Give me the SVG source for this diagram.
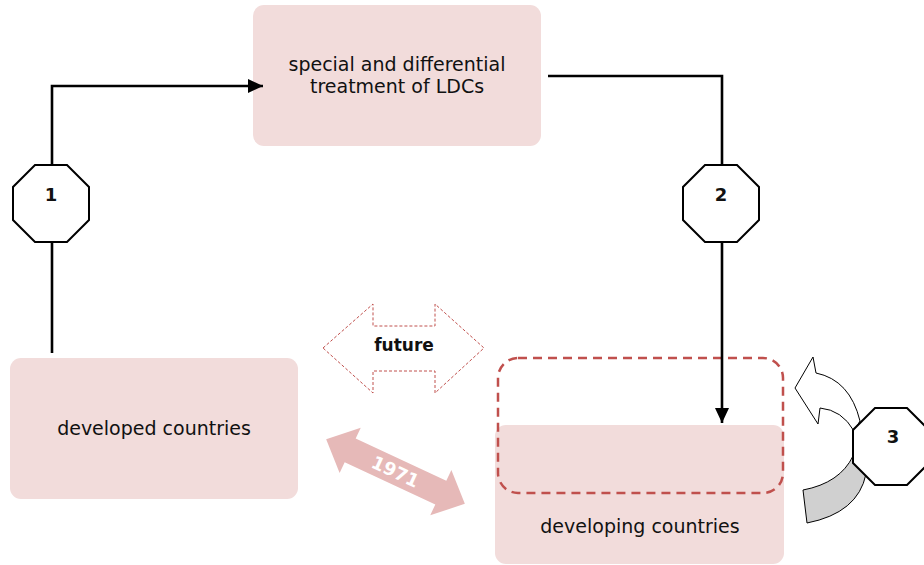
<svg xmlns="http://www.w3.org/2000/svg" width="924" height="565" viewBox="0 0 924 565">
<style>
.box{fill:#f2dcdb;stroke:none}
.lbl{font-family:"DejaVu Sans",sans-serif;font-size:19px;fill:#111;text-anchor:middle}
.num{font-family:"DejaVu Sans",sans-serif;font-size:18px;font-weight:bold;fill:#111;text-anchor:middle}
.oct{fill:#fff;stroke:#000;stroke-width:2}
.conn{fill:none;stroke:#000;stroke-width:2.6}
</style>
<defs>
<marker id="ah" markerWidth="16" markerHeight="14" refX="15" refY="7" orient="auto" markerUnits="userSpaceOnUse">
<path d="M0,0 L15,7 L0,14 Z" fill="#000"/>
</marker>
</defs>
<rect width="924" height="565" fill="#fff"/>
<g id="node-sdt">
<rect class="box" x="253" y="5" width="288" height="141" rx="11"/>
<text class="lbl" x="397" y="71">special and differential</text>
<text class="lbl" x="397" y="93">treatment of LDCs</text>
</g>
<g id="node-developed">
<rect class="box" x="10" y="358" width="288" height="141" rx="11"/>
<text class="lbl" x="154" y="435">developed countries</text>
</g>
<g id="node-developing">
<rect class="box" x="495" y="425" width="289" height="139" rx="11"/>
<text class="lbl" x="640" y="533">developing countries</text>
</g>
<g id="future-zone">
<rect x="498" y="358" width="285" height="135" rx="20" fill="none" stroke="#c0504d" stroke-width="2.5" stroke-dasharray="9 6"/>
</g>
<g id="connectors">
<polyline class="conn" points="52,353 52,86 263,86" marker-end="url(#ah)"/>
<polyline class="conn" points="548,76 722,76 722,423" marker-end="url(#ah)"/>
</g>
<g id="node-1">
<polygon class="oct" points="35,165 67,165 89,187 89,220 67,242 35,242 13,220 13,187"/>
<text class="num" x="51" y="201">1</text>
</g>
<g id="node-2">
<polygon class="oct" points="705,165 737,165 759,187 759,220 737,242 705,242 683,220 683,187"/>
<text class="num" x="721" y="201">2</text>
</g>
<g id="future-arrow">
<path d="M323,348 L373,304 L373,326 L435,326 L435,304 L484,348 L435,393 L435,371 L373,371 L373,393 Z" fill="#fff" stroke="#c0504d" stroke-width="1" stroke-dasharray="3 2"/>
<text x="404" y="351" font-family="DejaVu Sans,sans-serif" font-size="17" font-weight="bold" fill="#111" text-anchor="middle">future</text>
</g>
<g id="arrow-1971" transform="translate(395.5,471.5) rotate(25)">
<path d="M-76.5,0 L-50,-25 L-50,-13 L50,-13 L50,-25 L76.5,0 L50,25 L50,13 L-50,13 L-50,25 Z" fill="#e6b9b8"/>
<text x="0" y="6.5" font-family="DejaVu Sans,sans-serif" font-size="18" font-weight="bold" fill="#fff" text-anchor="middle">1971</text>
</g>
<g id="node-3">
<path d="M860,421 Q850,380 816,373 L813,357 L795,388 L818,424 L820,408 Q842,410 854,431 Z" fill="#fff" stroke="#000" stroke-width="1"/>
<path d="M853,456 Q840,483 803,490 L807,523 Q858,513 866,474 Z" fill="#d0d0d0" stroke="#000" stroke-width="1"/>
<polygon class="oct" points="875,408 907,408 929,430 929,463 907,485 875,485 853,463 853,430"/>
<text class="num" x="893" y="443">3</text>
</g>
</svg>
